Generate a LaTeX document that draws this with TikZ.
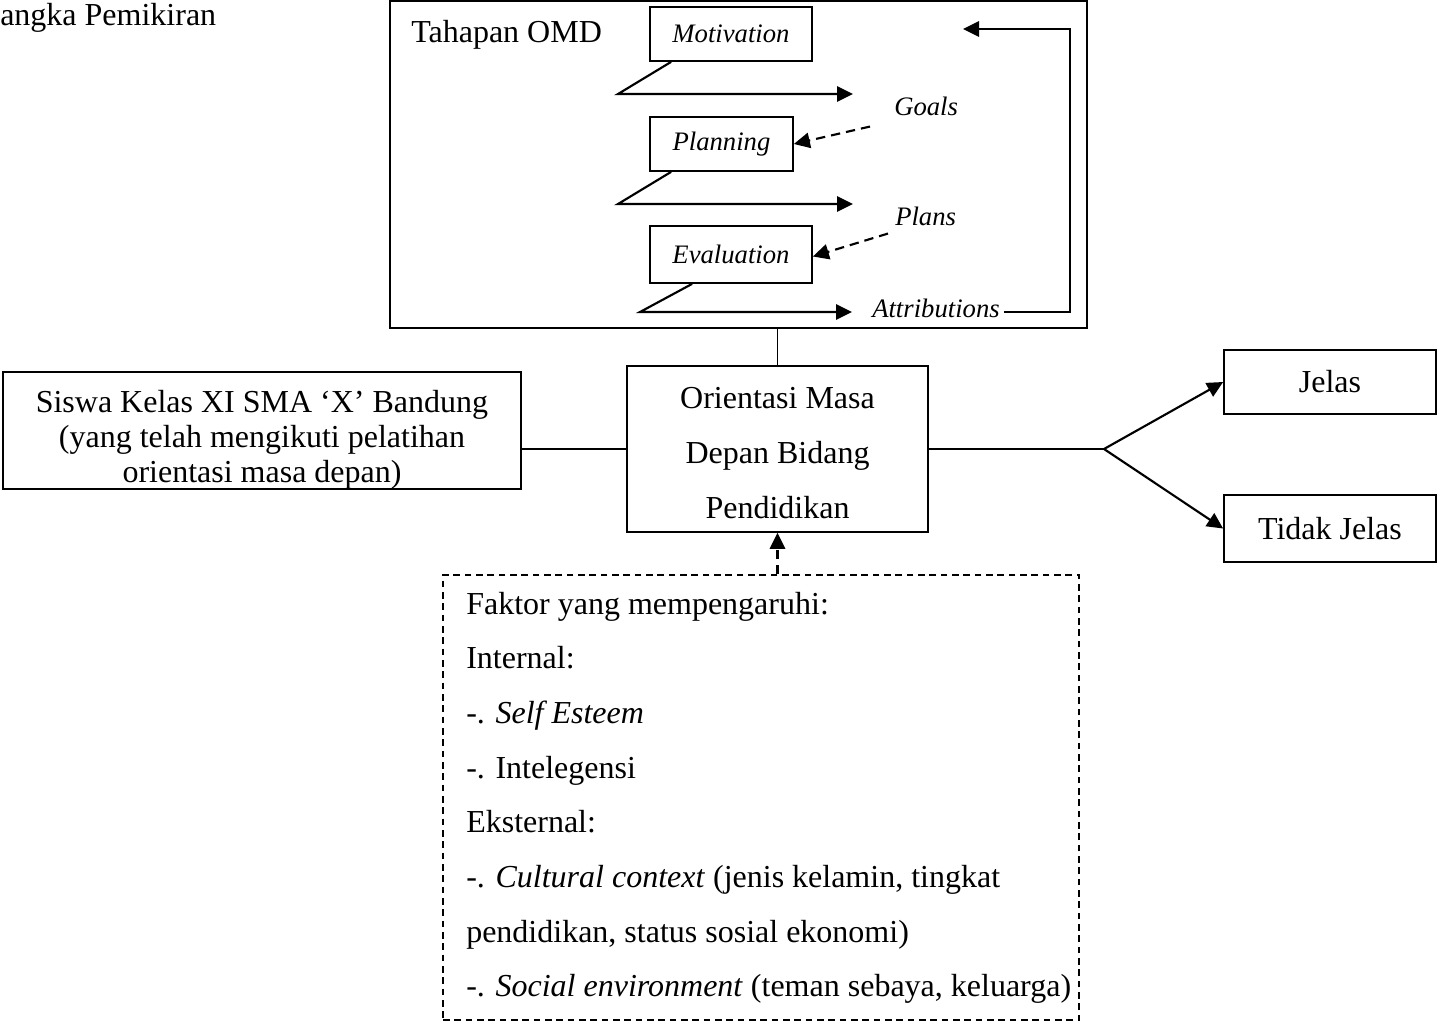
\documentclass[tikz,border=0pt]{standalone}
\usepackage{fontspec}
\setmainfont{Liberation Serif}
\usetikzlibrary{arrows.meta,calc}
\begin{document}
\begin{tikzpicture}[x=0.75pt,y=-0.75pt,
  box/.style={draw,line width=1.3pt,inner sep=0pt,align=center},
  main/.style={font=\fontsize{24}{25.5}\selectfont},
  small/.style={font=\fontsize{20}{24}\selectfont\itshape},
  arr/.style={line width=1.6pt,-{Triangle[length=12pt,width=11.5pt]}},
  darr/.style={arr,dash pattern=on 7pt off 4.5pt},
  ln/.style={line width=1.2pt},
  ftxt/.style={main,anchor=base west,inner sep=0pt}]
\useasboundingbox (0,0) rectangle (1438,1025);

\node[main,anchor=base west,inner sep=0pt] (title) at (0,25) {angka Pemikiran};

% OMD box
\node[box,minimum width=522.75pt,minimum height=245.25pt] (omd) at (738.5,164.5) {};
\node[main,anchor=base west,inner sep=0pt] (tah) at (411,42) {Tahapan OMD};
\node[box,small,minimum width=121.5pt,minimum height=40.5pt] (mot) at (731,34) {Motivation};
\node[box,small,minimum width=107.25pt,minimum height=40.5pt] (pla) at (721.5,144) {Planning};
\node[box,small,minimum width=121.5pt,minimum height=42.75pt] (eva) at (731,254.5) {Evaluation};
\node[small,anchor=base west,inner sep=0pt] (goals) at (894,115) {Goals};
\node[small,anchor=base west,inner sep=0pt] (plans) at (895,225) {Plans};
\node[small,anchor=base west,inner sep=0pt] (attr) at (872,317) {Attributions};

\coordinate (m1) at (618,94);  \coordinate (m2) at (853,94);
\coordinate (p1) at (618,204); \coordinate (p2) at (853,204);
\coordinate (e1) at (640,312); \coordinate (e2) at (852,312);
\draw[arr] ($(mot.south west)+(22,0)$) -- (m1) -- (m2);
\draw[arr] ($(pla.south west)+(22,0)$) -- (p1) -- (p2);
\draw[arr] ($(eva.south west)+(43,0)$) -- (e1) -- (e2);
\draw[darr] ($(goals.south west)+(-24,11)$) -- (pla.east);
\draw[darr] ($(plans.south west)+(-7,8)$) -- ($(eva.east)+(0,2)$);

\coordinate (fbtop) at (1070,29);
\coordinate (fbend) at (963,29);
\draw[arr] ($(attr.east)+(4,4)$) -| (fbtop) -- (fbend);

% main boxes
\node[box,minimum width=225.75pt,minimum height=124.5pt] (orient) at (777.5,449) {};
\node[align=center,inner sep=0pt,font=\fontsize{24}{41}\selectfont] (ortxt) at (777.5,453) {Orientasi Masa\\Depan Bidang\\Pendidikan};
\node[box,minimum width=388.5pt,minimum height=87.75pt] (siswa) at (262,430.5) {};
\node[align=center,inner sep=0pt,font=\fontsize{24}{26.25}\selectfont] (sitxt) at (262,440) {Siswa Kelas XI SMA ‘X’ Bandung\\(yang telah mengikuti pelatihan\\orientasi masa depan)};
\node[box,main,minimum width=159pt,minimum height=48pt] (jel) at (1330,382) {Jelas};
\node[box,main,minimum width=159pt,minimum height=50.25pt] (tid) at (1330,528.5) {Tidak Jelas};

\draw[ln] (omd.south -| orient.north) -- (orient.north);
\draw[ln] (orient.west) -- (orient.west -| siswa.east);
\coordinate (br) at (1104,449);
\draw[ln] (orient.east) -- (br);
\draw[arr] (br) -- (jel.west);
\draw[arr] (br) -- (tid.west);

% factors box
\node[draw,line width=1pt,dash pattern=on 5pt off 3.5pt,minimum width=477pt,minimum height=333.75pt,inner sep=0pt] (fak) at (761,797.5) {};
\draw[darr] (fak.north -| orient.south) -- (orient.south);

\node[ftxt] (f1) at (466,614) {Faktor yang mempengaruhi:};
\node[ftxt] (f2) at (466,668.7) {Internal:};
\node[ftxt] (f3) at (466,723.4) {-. \textit{Self Esteem}};
\node[ftxt] (f4) at (466,778.1) {-. Intelegensi};
\node[ftxt] (f5) at (466,832.8) {Eksternal:};
\node[ftxt] (f6) at (466,887.5) {-. \textit{Cultural context} (jenis kelamin, tingkat};
\node[ftxt] (f7) at (466,942.2) {pendidikan, status sosial ekonomi)};
\node[ftxt] (f8) at (466,996.9) {-. \textit{Social environment} (teman sebaya, keluarga)};
\end{tikzpicture}
\end{document}
